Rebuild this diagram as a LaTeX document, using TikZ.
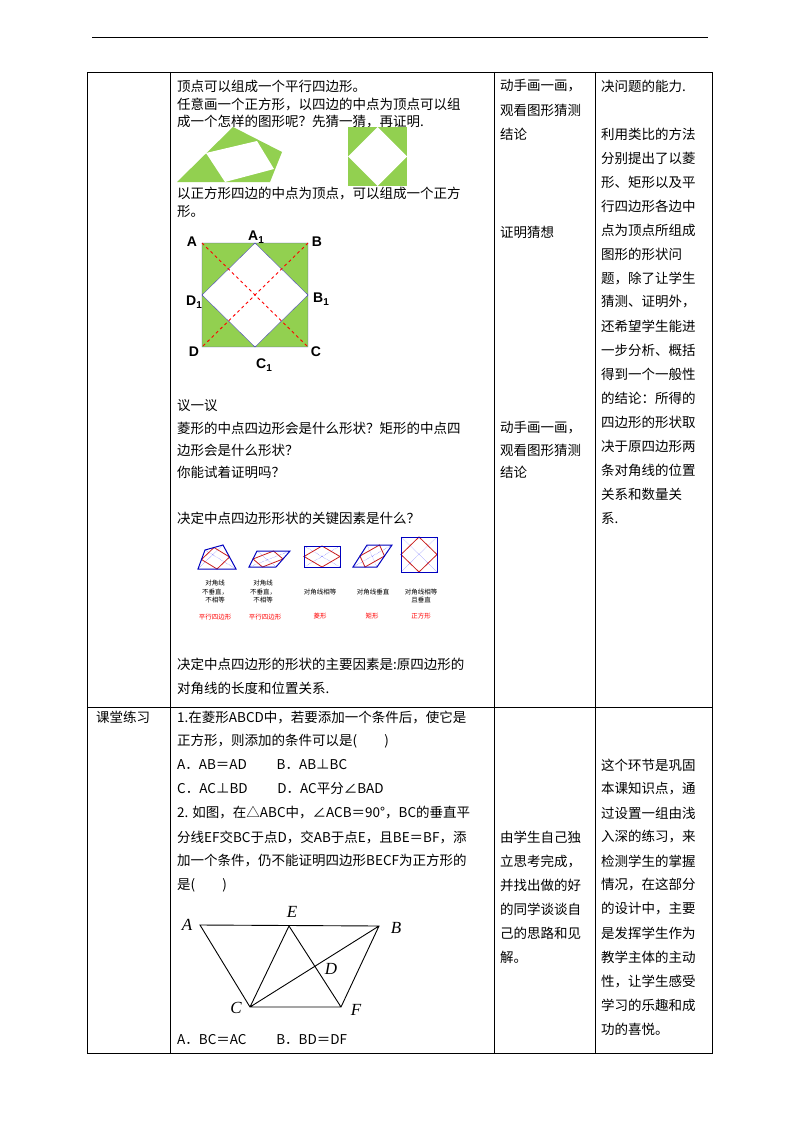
\documentclass[tikz,border=0pt]{standalone}
\usepackage{fontspec}
\setmainfont{Liberation Serif}
\newfontfamily\cjk{Noto Sans CJK SC}
\newfontfamily\lsans{Liberation Sans}
\usetikzlibrary{calc}
\definecolor{gr}{RGB}{146,208,80}
\definecolor{rd}{RGB}{200,30,30}
\newcommand\mqd[4]{%
 \draw[blue!70,densely dotted,thin] #1--#3 #2--#4;
 \draw[rd,line width=0.8pt] ($#1!.5!#2$)--($#2!.5!#3$)--($#3!.5!#4$)--($#4!.5!#1$)--cycle;
 \draw[blue!75!black,line width=1pt] #1--#2--#3--#4--cycle;}
\newcommand\sbx[1]{\raisebox{-0.35ex}{\fontsize{10}{10}\selectfont #1}}
\begin{document}
\begin{tikzpicture}[x=1pt,y=-1pt,
 t/.style={anchor=west,inner sep=0pt,font=\cjk\fontsize{13.5}{14}\selectfont},
 s/.style={align=center,inner sep=0pt,font=\cjk\fontsize{6.5}{8.5}\selectfont},
 lb/.style={inner sep=0pt,font=\lsans\bfseries\fontsize{14}{14}\selectfont},
 it/.style={inner sep=0pt,font=\itshape\fontsize{17}{17}\selectfont}]
\useasboundingbox (0,0) rectangle (800,1132);
\fill[white] (0,0) rectangle (800,1132);
\draw[line width=1pt] (92,38)--(708,38);
% table
\draw[line width=0.6pt] (87,72) rectangle (712,1053);
\draw[line width=0.6pt] (87,707)--(712,707);
\foreach \x in {170,494,595} \draw[line width=0.6pt] (\x,72)--(\x,1053);
% col2 row1
\node[t] at (177,86) {顶点可以组成一个平行四边形。};
\node[t] at (177,104) {任意画一个正方形，以四边的中点为顶点可以组};
\node[t] at (177,122) {成一个怎样的图形呢？先猜一猜，再证明.};
\fill[gr] (177,182)--(233,127)--(282,152)--(270,182)--cycle;
\fill[white] (206,153)--(257,141)--(274,169)--(225,182)--cycle;
\fill[gr] (348,127) rectangle (407,186);
\fill[white] (377.5,127)--(407,156.5)--(377.5,186)--(348,156.5)--cycle;
\node[t] at (177,194) {以正方形四边的中点为顶点，可以组成一个正方};
\node[t] at (177,212) {形。};
% square fig
\fill[gr] (202,243) rectangle (308,347);
\fill[white] (255,243)--(308,295)--(255,347)--(202,295)--cycle;
\draw[blue!40!gray,thin] (202,243) rectangle (308,347) (255,243)--(308,295)--(255,347)--(202,295)--cycle;
\draw[red,dashed,line width=0.9pt] (202,243)--(308,347) (308,243)--(202,347);
\node[lb] at (192,242) {A};
\node[lb] at (256,237) {A\sbx{1}};
\node[lb] at (317,242) {B};
\node[lb] at (321,299) {B\sbx{1}};
\node[lb] at (194,302) {D\sbx{1}};
\node[lb] at (194,352) {D};
\node[lb] at (316,352) {C};
\node[lb] at (264,365) {C\sbx{1}};
\node[t] at (177,406) {议一议};
\node[t] at (177,428) {菱形的中点四边形会是什么形状？矩形的中点四};
\node[t] at (177,450) {边形会是什么形状？};
\node[t] at (177,472) {你能试着证明吗？};
\node[t] at (177,518) {决定中点四边形形状的关键因素是什么？};
% small shapes
\mqd{(205,550)}{(223,545)}{(236,569)}{(198,569)}
\mqd{(257,551)}{(290,551)}{(276,567)}{(249,567)}
\mqd{(304,546)}{(340,546)}{(340,567)}{(304,567)}
\mqd{(367,545)}{(392,545)}{(377,567)}{(353,567)}
\mqd{(401,537)}{(437,537)}{(437,572)}{(401,572)}
\node[s] at (215,592) {对角线\\不垂直，\\不相等};
\node[s] at (263,592) {对角线\\不垂直，\\不相等};
\node[s] at (320,592) {对角线相等};
\node[s] at (373,592) {对角线垂直};
\node[s] at (421,596) {对角线相等\\且垂直};
\node[s,text=red] at (215,617) {平行四边形};
\node[s,text=red] at (265,617) {平行四边形};
\node[s,text=red] at (320,616) {菱形};
\node[s,text=red] at (372,616) {矩形};
\node[s,text=red] at (421,616) {正方形};
\node[t] at (177,664) {决定中点四边形的形状的主要因素是:原四边形的};
\node[t] at (177,688) {对角线的长度和位置关系.};
% col3 row1
\node[t] at (500,86) {动手画一画，};
\node[t] at (500,110) {观看图形猜测};
\node[t] at (500,134) {结论};
\node[t] at (500,232) {证明猜想};
\node[t] at (500,428) {动手画一画，};
\node[t] at (500,450) {观看图形猜测};
\node[t] at (500,472) {结论};
% col4 row1
\foreach \s [count=\i] in {决问题的能力.,{},利用类比的方法,分别提出了以菱,形、矩形以及平,行四边形各边中,点为顶点所组成,图形的形状问,题，除了让学生,猜测、证明外，,还希望学生能进,一步分析、概括,得到一个一般性,的结论：所得的,四边形的形状取,决于原四边形两,条对角线的位置,关系和数量关,系.}
  \node[t] at (601,62+24*\i) {\s};
% row2
\node[t] at (96,717) {课堂练习};
\node[t] at (177,717) {1.在菱形ABCD中，若要添加一个条件后，使它是};
\node[t] at (177,741) {正方形，则添加的条件可以是(\quad\quad)};
\node[t] at (177,765) {A．AB＝AD\hspace{2.2em}B．AB⊥BC};
\node[t] at (177,789) {C．AC⊥BD\hspace{2.2em}D．AC平分∠BAD};
\node[t] at (177,813) {2. 如图，在△ABC中，∠ACB＝90°，BC的垂直平};
\node[t] at (177,837) {分线EF交BC于点D，交AB于点E，且BE＝BF，添};
\node[t] at (177,861) {加一个条件，仍不能证明四边形BECF为正方形的};
\node[t] at (177,885) {是(\quad\quad)};
\coordinate (A) at (200,925);
\coordinate (E) at (289,926);
\coordinate (B) at (379,926);
\coordinate (C) at (250,1007);
\coordinate (F) at (341,1007);
\draw[line width=0.9pt] (A)--(B)--(F)--(C)--cycle (C)--(E)--(F) (C)--(B);
\node[it] at (187,925) {A};
\node[it] at (292,912) {E};
\node[it] at (396,928) {B};
\node[it] at (331,969) {D};
\node[it] at (236,1008) {C};
\node[it] at (356,1010) {F};
\node[t] at (177,1040) {A．BC＝AC\hspace{2.2em}B．BD＝DF};
\foreach \s [count=\i] in {由学生自己独,立思考完成，,并找出做的好,的同学谈谈自,己的思路和见,解。}
  \node[t] at (500,813+24*\i) {\s};
\foreach \s [count=\i] in {这个环节是巩固,本课知识点，通,过设置一组由浅,入深的练习，来,检测学生的掌握,情况，在这部分,的设计中，主要,是发挥学生作为,教学主体的主动,性，让学生感受,学习的乐趣和成,功的喜悦。}
  \node[t] at (601,741+24*\i) {\s};
\end{tikzpicture}
\end{document}
